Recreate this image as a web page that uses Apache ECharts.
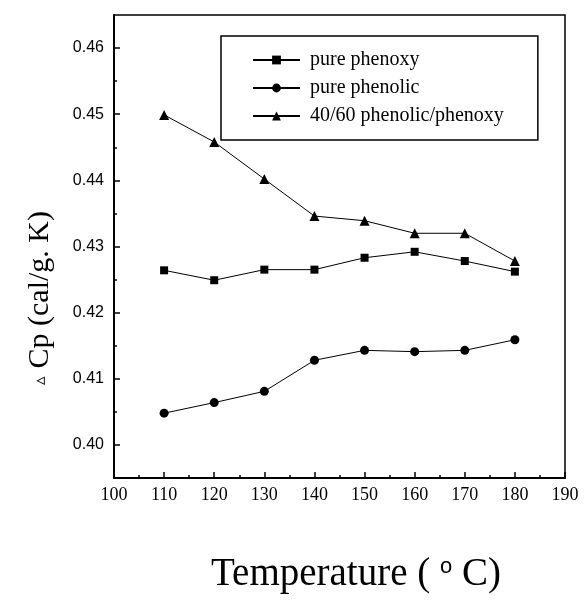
<!DOCTYPE html>
<html>
<head>
<meta charset="utf-8">
<script src="https://cdn.jsdelivr.net/npm/echarts@6/dist/echarts.min.js"></script>
<style>
  html, body { margin: 0; padding: 0; background: #fff; }
  #chart { width: 584px; height: 604px; }
</style>
</head>
<body>
<div id="chart"></div>
<script>
// data
var temps = [110, 120, 130, 140, 150, 160, 170, 180];
var purePhenoxy  = [0.4264, 0.4249, 0.4265, 0.4265, 0.4283, 0.4292, 0.4278, 0.4262];
var purePhenolic = [0.4048, 0.4064, 0.4081, 0.4128, 0.4143, 0.4141, 0.4143, 0.4159];
var blend4060    = [0.4499, 0.4458, 0.4402, 0.4346, 0.4339, 0.4320, 0.4320, 0.4278];
var seriesNames = ['pure phenoxy', 'pure phenolic', '40/60 phenolic/phenoxy'];
var yTicks = [0.40, 0.41, 0.42, 0.43, 0.44, 0.45, 0.46];
var yMinorTicks = [0.405, 0.415, 0.425, 0.435, 0.445, 0.455];

var chart = echarts.init(document.getElementById('chart'));

function pairs(vals) {
  var out = [];
  for (var i = 0; i < temps.length; i++) {
    out.push([temps[i], vals[i]]);
  }
  return out;
}

function lineSeries(name, vals, symbol, size) {
  return {
    name: name,
    type: 'line',
    data: pairs(vals),
    symbol: symbol,
    symbolSize: size,
    color: '#000',
    lineStyle: { color: '#000', width: 1 },
    itemStyle: { color: '#000' },
    animation: false
  };
}

var serif = '"Liberation Serif", "Times New Roman", serif';
var sans = '"Liberation Sans", Arial, sans-serif';

var option = {
  backgroundColor: '#fff',
  animation: false,
  grid: {
    left: 114, right: 19, top: 15, bottom: 126,
    show: true, borderColor: '#000', borderWidth: 1.5
  },
  legend: {
    orient: 'vertical',
    left: 221, top: 36,
    padding: [14, 34, 14, 31],
    itemGap: 8,
    itemWidth: 47,
    itemHeight: 11,
    borderColor: '#000',
    borderWidth: 1.5,
    data: seriesNames,
    textStyle: { fontFamily: serif, fontSize: 20, color: '#000', padding: [0, 0, 0, 5] }
  },
  xAxis: {
    type: 'value',
    min: 100, max: 190, interval: 10,
    axisLine: { lineStyle: { color: '#000', width: 2 } },
    axisTick: { inside: true, length: 6, lineStyle: { color: '#000', width: 1.5 } },
    minorTick: { show: true, splitNumber: 2, length: 3, lineStyle: { color: '#000', width: 1.5 } },
    splitLine: { show: false },
    axisLabel: { fontFamily: serif, fontSize: 18, color: '#000', margin: 8 }
  },
  yAxis: [{
    type: 'value',
    min: 0.395, max: 0.465,
    axisLine: { lineStyle: { color: '#000', width: 2 } },
    axisTick: { inside: true, length: 6, customValues: yTicks, lineStyle: { color: '#000', width: 1.5 } },
    splitLine: { show: false },
    axisLabel: {
      customValues: yTicks,
      fontFamily: sans, fontSize: 16, color: '#000', margin: 10,
      formatter: function (v) { return v.toFixed(2); }
    }
  }, {
    type: 'value',
    position: 'left',
    min: 0.395, max: 0.465,
    axisLine: { show: false },
    axisTick: { inside: true, length: 3, customValues: yMinorTicks, lineStyle: { color: '#000', width: 1.5 } },
    axisLabel: { show: false },
    splitLine: { show: false }
  }],
  graphic: [{
    type: 'text',
    x: 40, y: 298,
    rotation: Math.PI / 2,
    style: {
      text: '{t|▵} Cp (cal/g. K)',
      font: '30px ' + serif,
      fill: '#000',
      align: 'center',
      verticalAlign: 'middle',
      rich: { t: { fontSize: 17, fontFamily: sans } }
    }
  }, {
    type: 'text',
    x: 356, y: 575,
    style: {
      text: 'Temperature ( {o|o} C)',
      font: '39px ' + serif,
      fill: '#000',
      align: 'center',
      verticalAlign: 'middle',
      rich: { o: { fontSize: 22, fontFamily: sans, verticalAlign: 'top', padding: [0, 0, 16, 0] } }
    }
  }],
  series: [
    lineSeries(seriesNames[0], purePhenoxy, 'rect', 8),
    lineSeries(seriesNames[1], purePhenolic, 'circle', 9),
    lineSeries(seriesNames[2], blend4060, 'triangle', 10)
  ]
};

chart.setOption(option);
window.addEventListener('resize', function () {
  chart.resize();
});
</script>
</body>
</html>
